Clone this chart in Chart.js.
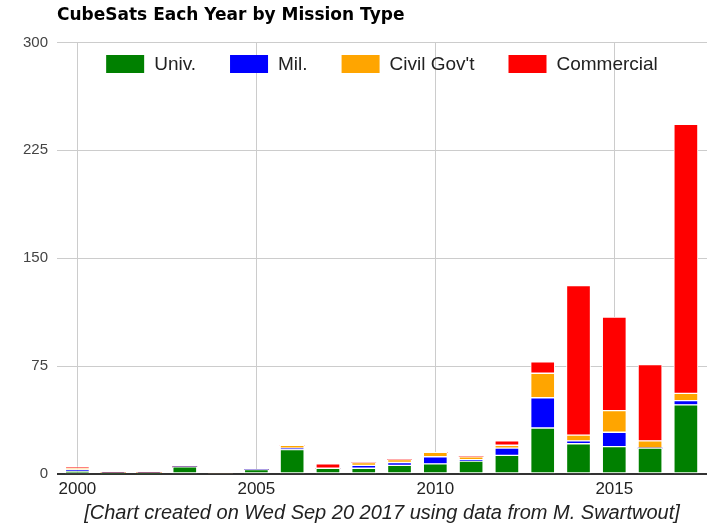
<!DOCTYPE html>
<html>
<head>
<meta charset="utf-8">
<title>CubeSats Each Year by Mission Type</title>
<script src="https://cdn.jsdelivr.net/npm/chart.js@4"></script>
<style>
  body { margin: 0; background: #fff; }
  #wrap { width: 717px; height: 523px; }
</style>
</head>
<body>
<div id="wrap"><canvas id="chart" width="717" height="523"></canvas></div>
<script>
// data
const years = [2000, 2001, 2002, 2003, 2004, 2005, 2006, 2007, 2008, 2009, 2010, 2011, 2012, 2013, 2014, 2015, 2016, 2017];
const univ  = [2, 0, 0, 5, 0, 3, 17, 4, 4, 6, 7, 9, 13, 32, 21, 19, 18, 48];
const mil   = [1, 1, 1, 0, 0, 0, 1, 0, 2, 2, 5, 1, 5, 21, 2, 10, 0, 3];
const civil = [1, 0, 0, 0, 0, 0, 2, 0, 2, 2, 3, 2, 2, 17, 4, 15, 5, 5];
const comm  = [1, 0, 0, 0, 0, 0, 0, 3, 0, 0, 0, 0, 3, 8, 104, 65, 53, 187];

const seriesNames = ['Univ.', 'Mil.', "Civil Gov't", 'Commercial'];
const seriesColors = ['#008000', '#0000ff', '#ffa500', '#ff0000'];
const xTicks = [2000, 2005, 2010, 2015];
const yTicks = [0, 75, 150, 225, 300];

const FONT = '"Liberation Sans", Arial, Helvetica, sans-serif';
Chart.defaults.font.family = FONT;

function toPoints(vals) {
  return vals.map((v, i) => ({ x: years[i], y: v }));
}

const datasets = [univ, mil, civil, comm].map((vals, i) => ({
  label: seriesNames[i],
  data: toPoints(vals),
  backgroundColor: seriesColors[i],
  borderColor: '#ffffff',
  borderWidth: (c) => (c.raw && c.raw.y ? 1 : 0),
  borderSkipped: false,
  barThickness: 24
}));

// legend drawn inside the top of the plot, like the original
const insideLegend = {
  id: 'insideLegend',
  afterDatasetsDraw(chart) {
    const ctx = chart.ctx;
    const area = chart.chartArea;
    const boxW = 38, boxH = 18, gapText = 10, gapItem = 34;
    ctx.save();
    ctx.font = '19px ' + FONT;
    const widths = chart.data.datasets.map(d => ctx.measureText(d.label).width);
    let total = 0;
    widths.forEach((w, i) => { total += boxW + gapText + w + (i ? gapItem : 0); });
    let x = (area.left + area.right) / 2 - total / 2;
    const yc = 64;
    ctx.textBaseline = 'middle';
    ctx.textAlign = 'left';
    chart.data.datasets.forEach((d, i) => {
      ctx.fillStyle = d.backgroundColor;
      ctx.fillRect(x, yc - boxH / 2, boxW, boxH);
      ctx.fillStyle = '#222';
      ctx.fillText(d.label, x + boxW + gapText, yc + 1);
      x += boxW + gapText + widths[i] + gapItem;
    });
    ctx.restore();
  }
};

new Chart(document.getElementById('chart'), {
  type: 'bar',
  data: { datasets },
  plugins: [insideLegend],
  options: {
    responsive: false,
    animation: false,
    layout: { padding: { left: 0, right: 10, top: 0, bottom: 0 } },
    plugins: {
      legend: { display: false },
      tooltip: { enabled: false },
      title: {
        display: true,
        fullSize: false,
        text: 'CubeSats Each Year by Mission Type',
        align: 'start',
        color: '#000',
        font: { family: '"DejaVu Sans", sans-serif', size: 17, weight: 'bold' },
        padding: { top: 5, bottom: 17 }
      }
    },
    scales: {
      x: {
        type: 'linear',
        stacked: true,
        offset: false,
        min: 1999.43,
        max: 2017.59,
        afterBuildTicks: (s) => { s.ticks = xTicks.map(v => ({ value: v })); },
        grid: { offset: false, color: '#cccccc', lineWidth: 1, drawTicks: false },
        border: { display: false },
        ticks: {
          color: '#222',
          font: { size: 17, lineHeight: 1 },
          padding: 7,
          maxRotation: 0,
          callback: (v) => String(v)
        },
        title: {
          display: true,
          text: '[Chart created on Wed Sep 20 2017 using data from M. Swartwout]',
          color: '#222',
          font: { size: 20, style: 'italic', lineHeight: 0.85 },
          padding: { top: 0, bottom: 1 }
        }
      },
      y: {
        stacked: true,
        min: 0,
        max: 300,
        afterBuildTicks: (s) => { s.ticks = yTicks.map(v => ({ value: v })); },
        afterFit: (s) => { s.width = 57; },
        grid: {
          drawTicks: false,
          color: (c) => (c.tick && c.tick.value === 0 ? '#333333' : '#cccccc'),
          lineWidth: (c) => (c.tick && c.tick.value === 0 ? 2 : 1)
        },
        border: { display: false },
        ticks: { color: '#444', font: { size: 15 }, padding: 9 }
      }
    }
  }
});
</script>
</body>
</html>
